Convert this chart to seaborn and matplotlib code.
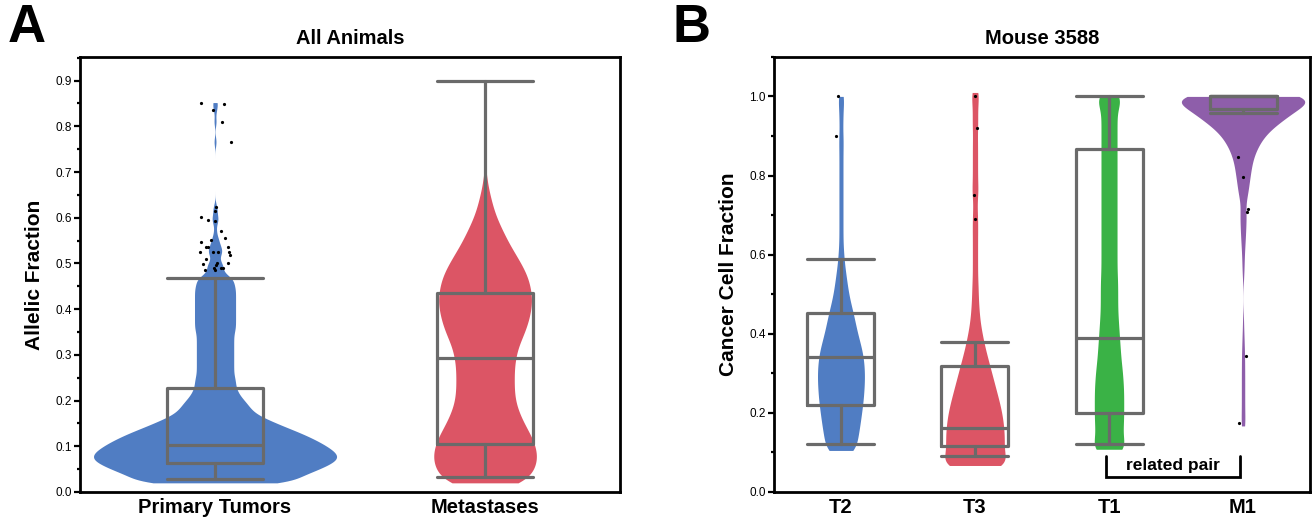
import numpy as np
import pandas as pd
import matplotlib
matplotlib.use("Agg")
import matplotlib.pyplot as plt
import seaborn as sns
from matplotlib.ticker import MultipleLocator

sns.set_style("white")
plt.rcParams['font.family'] = ['Liberation Sans', 'DejaVu Sans']
plt.rcParams['text.color'] = 'black'
plt.rcParams['axes.labelcolor'] = 'black'
plt.rcParams['xtick.color'] = 'black'
plt.rcParams['ytick.color'] = 'black'

# ---------------- Panel A data ----------------
cats_A = ["Primary Tumors", "Metastases"]
colors_A = ["#507DC3", "#DC5565"]
widths_A = [0.90, 0.38]

pt_vals = [0.02, 0.0325, 0.045, 0.0575, 0.07, 0.0825, 0.095, 0.1075, 0.12,
           0.1325, 0.145, 0.1575, 0.17, 0.1825, 0.195, 0.2075, 0.22, 0.2325,
           0.245, 0.2575, 0.27, 0.2825, 0.295, 0.3075, 0.32, 0.3325, 0.345,
           0.3575, 0.37, 0.3825, 0.395, 0.4075, 0.42, 0.4325, 0.445, 0.4575,
           0.47]
pt_counts = [44, 44, 53, 60, 66, 66, 62, 57, 51,
             44, 36, 29, 22, 19, 17, 14, 12, 11,
             11, 10, 10, 10, 10, 10, 10, 10, 10,
             11, 11, 11, 11, 11, 11, 11, 11, 10,
             10]
pt_outliers = [0.852, 0.849, 0.835, 0.810, 0.766, 0.623, 0.615, 0.601, 0.596,
               0.592, 0.572, 0.556, 0.552, 0.547, 0.537, 0.536, 0.536, 0.526,
               0.526, 0.524, 0.524, 0.519, 0.510, 0.501, 0.501, 0.499, 0.496,
               0.491, 0.489, 0.489, 0.485, 0.485]

mt_vals = [0.02, 0.045, 0.07, 0.095, 0.12, 0.145, 0.17, 0.195, 0.22, 0.245,
           0.27, 0.295, 0.32, 0.345, 0.37, 0.395, 0.42, 0.445, 0.47, 0.495,
           0.52, 0.545, 0.57, 0.595, 0.62, 0.645, 0.67, 0.695, 0.90]
mt_counts = [30, 35, 38, 37, 34, 29, 25, 22, 21, 21,
             21, 22, 24, 28, 31, 33, 34, 33, 31, 27,
             22, 17, 13, 9, 6, 4, 2, 1, 1]

# box statistics: (whisker low, q1, median, q3, whisker high)
box_A = {
    "Primary Tumors": (0.028, 0.064, 0.102, 0.228, 0.469),
    "Metastases": (0.032, 0.105, 0.293, 0.435, 0.900),
}

# ---------------- Panel B data ----------------
cats_B = ["T2", "T3", "T1", "M1"]
colors_B = ["#507DC3", "#DC5565", "#3AB246", "#8E5EAA"]
widths_B = [0.35, 0.45, 0.22, 0.92]

t2_vals = [0.105, 0.13, 0.155, 0.18, 0.205, 0.23, 0.255, 0.28, 0.305, 0.33,
           0.355, 0.38, 0.405, 0.43, 0.455, 0.48, 0.505, 0.53, 0.555, 0.58,
           0.605, 0.63, 0.655, 0.68, 0.705, 0.73, 0.755, 0.78, 0.805, 0.83,
           0.855, 0.88, 0.90, 0.93, 0.955, 0.98, 1.0]
t2_counts = [24, 24, 27, 29, 31, 33, 34, 35, 35, 34,
             32, 28, 24, 21, 18, 14, 11, 9, 7, 5,
             4, 3, 3, 3, 3, 3, 3, 3, 3, 3,
             3, 3, 3, 3, 3, 3, 5]

t3_vals = [0.067, 0.092, 0.117, 0.142, 0.167, 0.192, 0.217, 0.242, 0.267, 0.292,
           0.317, 0.342, 0.367, 0.392, 0.417, 0.442, 0.467, 0.492, 0.517, 0.542,
           0.567, 0.592, 0.617, 0.642, 0.667, 0.69, 0.717, 0.75, 0.767, 0.792,
           0.817, 0.842, 0.867, 0.892, 0.92, 0.942, 0.967, 0.992, 1.01]
t3_counts = [60, 43, 45, 45, 44, 42, 39, 35, 31, 27,
             23, 19, 15, 12, 9, 7, 6, 5, 5, 4,
             4, 4, 4, 4, 4, 4, 4, 4, 4, 4,
             4, 4, 4, 4, 4, 4, 4, 4, 6]

t1_vals = [0.108, 0.133, 0.158, 0.183, 0.208, 0.233, 0.258, 0.283, 0.308, 0.333,
           0.358, 0.383, 0.408, 0.433, 0.458, 0.483, 0.508, 0.533, 0.558, 0.583,
           0.608, 0.633, 0.658, 0.683, 0.708, 0.733, 0.758, 0.783, 0.808, 0.833,
           0.858, 0.883, 0.908, 0.933, 0.958, 0.983, 1.0]
t1_counts = [30, 20, 21, 22, 22, 22, 22, 21, 20, 18,
             17, 16, 15, 14, 13, 13, 13, 13, 12, 12,
             12, 12, 12, 12, 12, 12, 12, 12, 12, 12,
             12, 12, 12, 12, 12, 12, 20]

m1_vals = [0.167, 0.19, 0.215, 0.24, 0.265, 0.29, 0.315, 0.342, 0.365, 0.39,
           0.415, 0.44, 0.54, 0.565, 0.59, 0.615, 0.64, 0.665, 0.69, 0.708,
           0.717, 0.75, 0.775, 0.8, 0.825, 0.85, 0.875, 0.9, 0.925, 0.95,
           0.975, 1.0]
m1_counts = [4, 3, 3, 3, 3, 3, 3, 3, 2, 2,
             1, 1, 1, 2, 2, 3, 4, 5, 5, 3,
             3, 9, 10, 13, 15, 19, 27, 37, 55, 82,
             99, 160]

outliers_B = {
    "T2": [1.0, 0.90],
    "T3": [1.0, 0.921, 0.750, 0.690],
    "T1": [],
    "M1": [0.846, 0.797, 0.716, 0.708, 0.343, 0.175],
}

box_B = {
    "T2": (0.122, 0.219, 0.341, 0.452, 0.589),
    "T3": (0.091, 0.115, 0.161, 0.318, 0.380),
    "T1": (0.122, 0.199, 0.389, 0.867, 1.000),
    "M1": (0.958, 0.968, 1.000, 1.000, 1.000),
}

BOX_COLOR = "#6A6A6A"


def draw_violin(ax, cat, order, vals, counts, color, width, bw):
    data = np.repeat(np.asarray(vals, float), counts)
    df = pd.DataFrame({"group": [cat] * len(data), "value": data})
    sns.violinplot(data=df, x="group", y="value", order=order, color=color,
                   width=width, density_norm="width", cut=0, inner=None,
                   linewidth=0, saturation=1,
                   bw_method=bw / np.std(data, ddof=1), gridsize=400, ax=ax)


def draw_boxes(ax, order, stats, width):
    bx = []
    for c in order:
        lo, q1, med, q3, hi = stats[c]
        bx.append(dict(whislo=lo, q1=q1, med=med, q3=q3, whishi=hi, fliers=[]))
    props = dict(color=BOX_COLOR, linewidth=2.3)
    ax.bxp(bx, positions=np.arange(len(order)), widths=width, capwidths=width,
           showfliers=False, boxprops=props, whiskerprops=props, capprops=props,
           medianprops=props, manage_ticks=False, zorder=5)


def style_axis(ax):
    for s in ax.spines.values():
        s.set_visible(True)
        s.set_color("black")
        s.set_linewidth(2.0)
    ax.tick_params(axis="y", which="major", direction="out", length=4.5,
                   width=1.6, labelsize=8.5, pad=1.5, left=True,
                   color="black", labelcolor="black")
    ax.tick_params(axis="y", which="minor", direction="out", length=2.2,
                   width=1.6, left=True, color="black")
    ax.tick_params(axis="x", length=0, pad=4, labelcolor="black")
    for lab in ax.get_xticklabels():
        lab.set_fontsize(14.5)
        lab.set_fontweight("bold")
    ax.set_xlabel("")


fig = plt.figure(figsize=(13.14, 5.23), dpi=100)
axA = fig.add_axes([0.0609, 0.0593, 0.4110, 0.832])
axB = fig.add_axes([0.589, 0.0593, 0.408, 0.832])

# ---- Panel A ----
draw_violin(axA, cats_A[0], cats_A, pt_vals + pt_outliers,
            pt_counts + [1] * len(pt_outliers), colors_A[0], widths_A[0], 0.01)
draw_violin(axA, cats_A[1], cats_A, mt_vals, mt_counts, colors_A[1],
            widths_A[1], 0.02)
draw_boxes(axA, cats_A, box_A, 0.355)
np.random.seed(7)
sns.stripplot(x=[cats_A[0]] * len(pt_outliers), y=pt_outliers, order=cats_A,
              color="black", size=2.3, jitter=0.06, ax=axA, zorder=10)
axA.set_xlim(-0.5, 1.5)
axA.set_ylim(0, 0.952)
axA.yaxis.set_major_locator(MultipleLocator(0.1))
axA.yaxis.set_minor_locator(MultipleLocator(0.05))
axA.set_yticks(np.arange(0, 0.91, 0.1))
axA.set_yticklabels([f"{v:.1f}" for v in np.arange(0, 0.91, 0.1)])
axA.set_ylabel("Allelic Fraction", fontsize=15, fontweight="bold", labelpad=8,
               color="black")
axA.set_title("All Animals", fontsize=14.5, fontweight="bold", pad=9,
              color="black")
style_axis(axA)

# ---- Panel B ----
b_vals = [t2_vals, t3_vals, t1_vals, m1_vals]
b_counts = [t2_counts, t3_counts, t1_counts, m1_counts]
for cat, v, n, col, w in zip(cats_B, b_vals, b_counts, colors_B, widths_B):
    draw_violin(axB, cat, cats_B, v, n, col, w, 0.022)
draw_boxes(axB, cats_B, box_B, 0.5)
np.random.seed(11)
pts_x, pts_y = [], []
for c in cats_B:
    pts_x += [c] * len(outliers_B[c])
    pts_y += outliers_B[c]
sns.stripplot(x=pts_x, y=pts_y, order=cats_B, color="black", size=2.3,
              jitter=0.04, ax=axB, zorder=10)
axB.set_xlim(-0.5, 3.5)
axB.set_ylim(0, 1.1)
axB.set_yticks(np.arange(0, 1.01, 0.2))
axB.set_yticklabels([f"{v:.1f}" for v in np.arange(0, 1.01, 0.2)])
axB.yaxis.set_minor_locator(MultipleLocator(0.1))
axB.set_ylabel("Cancer Cell Fraction", fontsize=15, fontweight="bold",
               labelpad=8, color="black")
axB.set_title("Mouse 3588", fontsize=14.5, fontweight="bold", pad=9,
              color="black")
style_axis(axB)

# related pair bracket
axB.plot([1.98, 1.98, 2.98, 2.98], [0.092, 0.039, 0.039, 0.092],
         color="black", lw=2.0, solid_joinstyle="miter", zorder=6)
axB.text(2.48, 0.066, "related pair", ha="center", va="center",
         fontsize=12.5, fontweight="bold", color="black", zorder=6)

# panel letters
fig.text(0.006, 0.995, "A", fontsize=38, fontweight="heavy", va="top",
         ha="left", color="black")
fig.text(0.512, 0.995, "B", fontsize=38, fontweight="heavy", va="top",
         ha="left", color="black")

fig.savefig("out.png", dpi=100)
